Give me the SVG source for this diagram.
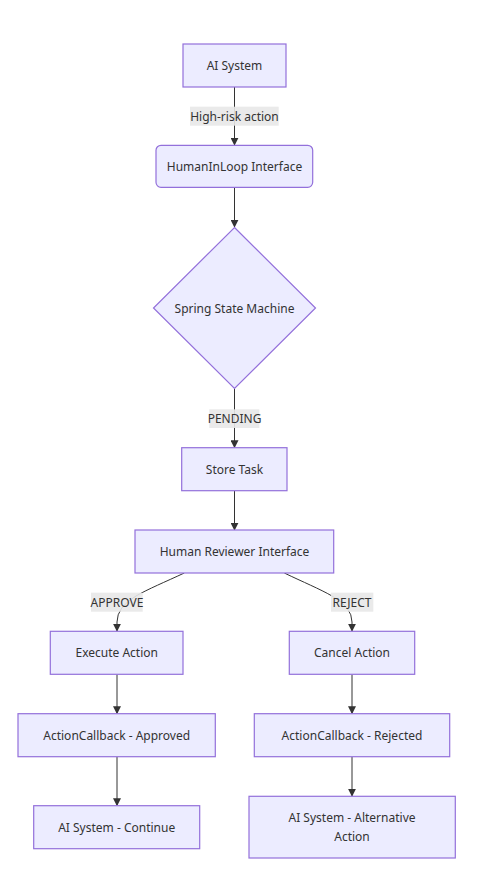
<svg xmlns="http://www.w3.org/2000/svg" width="504" height="870" viewBox="0 0 504 870">
<defs>
<style>
.node{fill:#ECECFF;stroke:#9370DB;stroke-width:1.2}
.t{font-family:"Noto Sans","DejaVu Sans",sans-serif;font-size:12px;fill:#333;text-anchor:middle;dominant-baseline:central}
.e{fill:none;stroke:#333;stroke-width:1}
.lb{fill:#e8e8e8;opacity:0.9}
</style>
<marker id="arr" viewBox="0 0 10 10" refX="9" refY="5" markerWidth="8" markerHeight="8" markerUnits="userSpaceOnUse" orient="auto">
<path d="M0,0 L10,5 L0,10 z" fill="#333"/>
</marker>
</defs>
<rect width="504" height="870" fill="#fff"/>
<g id="connectors">
<path class="e" d="M234.5,87 L234.5,145" marker-end="url(#arr)"/>
<path class="e" d="M234.5,187.5 L234.5,227" marker-end="url(#arr)"/>
<path class="e" d="M234.5,388.5 L234.5,447.5" marker-end="url(#arr)"/>
<path class="e" d="M234.5,491 L234.5,530" marker-end="url(#arr)"/>
<path class="e" d="M184.3,573 C165,582 148,589 136,596 Q117,607 117,622 L117,631" marker-end="url(#arr)"/>
<path class="e" d="M284.3,573 C303,582 320,589 332,596 Q352,607 352,622 L352,631" marker-end="url(#arr)"/>
<path class="e" d="M117,674.5 L117,713.5" marker-end="url(#arr)"/>
<path class="e" d="M352,674.5 L352,713.5" marker-end="url(#arr)"/>
<path class="e" d="M117,757 L117,805.5" marker-end="url(#arr)"/>
<path class="e" d="M352,757 L352,796" marker-end="url(#arr)"/>
<g id="edge-labels">
<rect class="lb" x="190" y="106.7" width="88.7" height="19"/>
<text class="t" x="234.5" y="116.2">High-risk action</text>
<rect class="lb" x="209.3" y="409.3" width="50" height="18.7"/>
<text class="t" x="234.5" y="418.7">PENDING</text>
<rect class="lb" x="91" y="592.7" width="51.7" height="19"/>
<text class="t" x="117" y="602.2">APPROVE</text>
<rect class="lb" x="331" y="592.7" width="42.3" height="19"/>
<text class="t" x="352" y="602.2">REJECT</text>
</g>
</g>
<g id="n-ai">
<rect class="node" x="183" y="44" width="103" height="43"/>
<text class="t" x="234.5" y="65.5">AI System</text>
</g>
<g id="n-hil">
<rect class="node" x="156" y="145.3" width="156.7" height="42" rx="5" ry="5"/>
<text class="t" x="234.5" y="166.3">HumanInLoop Interface</text>
</g>
<g id="n-ssm">
<polygon class="node" points="234.5,227.5 315.5,308 234.5,388.5 153.5,308"/>
<text class="t" x="234.5" y="308">Spring State Machine</text>
</g>
<g id="n-store">
<rect class="node" x="181.7" y="447.7" width="105.3" height="43"/>
<text class="t" x="234.5" y="469.2">Store Task</text>
</g>
<g id="n-reviewer">
<rect class="node" x="135" y="530" width="198.7" height="43"/>
<text class="t" x="234.5" y="551.5">Human Reviewer Interface</text>
</g>
<g id="n-exec">
<rect class="node" x="50.3" y="631.3" width="132.7" height="43"/>
<text class="t" x="116.7" y="652.8">Execute Action</text>
</g>
<g id="n-cancel">
<rect class="node" x="289.3" y="631.3" width="125.4" height="43"/>
<text class="t" x="352" y="652.8">Cancel Action</text>
</g>
<g id="n-cb-approved">
<rect class="node" x="18" y="713.7" width="197.3" height="43"/>
<text class="t" x="116.7" y="735.2">ActionCallback - Approved</text>
</g>
<g id="n-cb-rejected">
<rect class="node" x="254.3" y="713.7" width="195.4" height="43"/>
<text class="t" x="352" y="735.2">ActionCallback - Rejected</text>
</g>
<g id="n-continue">
<rect class="node" x="33.7" y="805.7" width="166" height="43"/>
<text class="t" x="116.7" y="827.2">AI System - Continue</text>
</g>
<g id="n-alt">
<rect class="node" x="249" y="796.3" width="206.3" height="61.7"/>
<text class="t" x="352" y="817.5">AI System - Alternative</text>
<text class="t" x="352" y="836.7">Action</text>
</g>
</svg>
